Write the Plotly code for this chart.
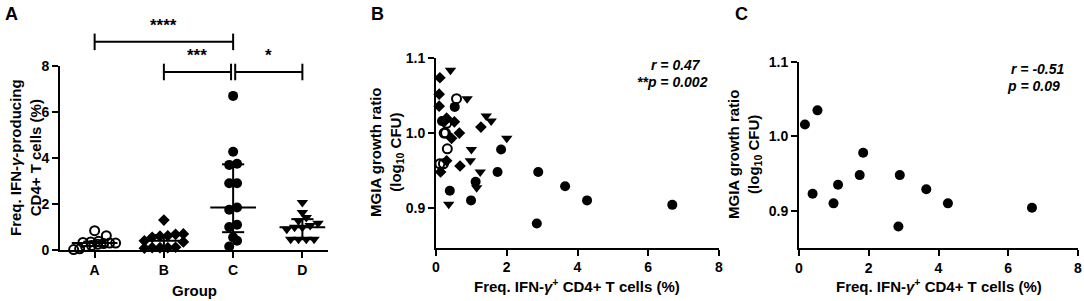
import numpy as np
import plotly.graph_objects as go

W, H = 1084, 301

# ---------------- DATA ----------------
groups = ["A", "B", "C", "D"]
grpA = [0.84, 0.62, 0.38, 0.35, 0.33, 0.30, 0.30, 0.28, 0.25, 0.20, 0.15, 0.05, 0.02]
grpB = [1.30, 0.70, 0.68, 0.62, 0.60, 0.55, 0.40, 0.35, 0.12, 0.10, 0.10, 0.10, 0.08]
grpC = [6.70, 4.27, 3.75, 3.70, 2.90, 2.90, 1.85, 1.75, 1.10, 1.00, 0.55, 0.40, 0.15]
grpD = [2.07, 1.63, 1.41, 1.27, 1.16, 1.06, 0.99, 0.99, 0.90, 0.47, 0.47, 0.47, 0.47]
group_values = [grpA, grpB, grpC, grpD]
group_symbols = ["circle-open", "diamond", "circle", "triangle-down"]

A_ticks = [0, 2, 4, 6, 8]
BC_xticks = [0, 2, 4, 6, 8]
BC_yticks = [0.9, 1.0, 1.1]

# significance brackets (from index, to index, label, height in y units)
brk_from = [0, 1, 2]
brk_to = [2, 2, 3]
brk_label = ["****", "***", "*"]
brk_height = [9.05, 7.74, 7.74]

# Panel B: correlation, all groups
b_A_x = [0.58, 0.30, 0.23, 0.27, 0.32, 0.11, 0.21]
b_A_y = [1.046, 1.013, 1.000, 1.000, 0.979, 0.959, 0.959]
b_B_x = [0.11, 0.09, 0.09, 0.30, 0.25, 0.52, 1.27, 0.66, 0.44, 0.30, 0.68, 0.13]
b_B_y = [1.074, 1.052, 1.036, 1.020, 1.016, 1.015, 1.008, 1.000, 0.993, 0.963, 0.956, 0.948]
c_x = [0.17, 0.53, 0.39, 0.99, 1.12, 1.74, 1.84, 2.89, 2.85, 3.65, 4.27, 6.68]
c_y = [1.016, 1.035, 0.923, 0.910, 0.935, 0.948, 0.978, 0.948, 0.879, 0.929, 0.910, 0.904]
b_D_x = [0.41, 0.88, 1.42, 1.56, 2.00, 1.00, 0.97, 1.25, 1.15, 0.36]
b_D_y = [1.084, 1.046, 1.023, 1.016, 0.993, 0.978, 0.963, 0.948, 0.927, 0.905]

stat_B = ["r = 0.47", "**p = 0.002"]
stat_C = ["r = -0.51", "p = 0.09"]

# ---------------- LAYOUT HELPERS ----------------
def px(x):
    return x / W

def py(y):
    return 1 - y / H

FONT = "Liberation Sans, Arial, sans-serif"
black = "black"

A_xr = [-0.5, 3.37]
A_yr = [0, 8]
A_xd = [px(60), px(328)]
A_yd = [py(250), py(66)]

B_xd = [px(436), px(719)]
B_yd = [py(247.5), py(58.3)]
B_yr = [0.847, 1.1]
C_xd = [px(799), px(1078)]
C_yd = [py(248), py(62)]
C_yr = [0.85, 1.1]

x_px_per_unit = (328 - 60) / (A_xr[1] - A_xr[0])
y_px_per_unit = (250 - 66) / 8.0


def swarm(vals, spacing_px=7.8, row_px=7.0, max_width_px=42.0):
    order = np.argsort(vals)
    offs = np.zeros(len(vals))
    rows = []
    cur = [order[0]]
    for idx in order[1:]:
        if (vals[idx] - vals[cur[0]]) * y_px_per_unit < row_px:
            cur.append(idx)
        else:
            rows.append(cur)
            cur = [idx]
    rows.append(cur)
    for r in rows:
        n = len(r)
        sp = spacing_px if n < 2 else min(spacing_px, max_width_px / (n - 1))
        for k, idx in enumerate(r):
            offs[idx] = (k - (n - 1) / 2) * sp / x_px_per_unit
    return offs


def b(s):
    return "<b>" + s + "</b>"


fig = go.Figure()

for gi, vals in enumerate(group_values):
    v = np.array(vals)
    offs = swarm(v)
    sym = group_symbols[gi]
    size = 9 if sym in ("circle-open", "diamond") else 10
    fig.add_trace(go.Scatter(
        x=gi + offs, y=v, mode="markers", xaxis="x", yaxis="y", cliponaxis=False,
        marker=dict(symbol=sym, size=size, color=black,
                    line=dict(color=black, width=2 if sym == "circle-open" else 0)),
        showlegend=False, hoverinfo="skip"))
    med = np.median(v)
    q1, q3 = np.percentile(v, [25, 75], method="weibull")
    mw, cw = 0.33, 0.16
    fig.add_trace(go.Scatter(
        x=[gi - mw, gi + mw, None, gi - cw, gi + cw, None, gi - cw, gi + cw, None, gi, gi],
        y=[med, med, None, q1, q1, None, q3, q3, None, q1, q3],
        mode="lines", line=dict(color=black, width=2), xaxis="x", yaxis="y",
        showlegend=False, hoverinfo="skip"))

for xs, ys, sym in [(b_A_x, b_A_y, "circle-open"), (b_B_x, b_B_y, "diamond"),
                    (c_x, c_y, "circle"), (b_D_x, b_D_y, "triangle-down")]:
    size = 9 if sym in ("circle-open", "diamond") else 10
    fig.add_trace(go.Scatter(
        x=xs, y=ys, mode="markers", xaxis="x2", yaxis="y2", cliponaxis=False,
        marker=dict(symbol=sym, size=size, color=black,
                    line=dict(color=black, width=2 if sym == "circle-open" else 0)),
        showlegend=False, hoverinfo="skip"))

fig.add_trace(go.Scatter(
    x=c_x, y=c_y, mode="markers", xaxis="x3", yaxis="y3", cliponaxis=False,
    marker=dict(symbol="circle", size=10, color=black),
    showlegend=False, hoverinfo="skip"))

tickfont = dict(family=FONT, size=14, color=black)
axcommon = dict(showline=True, linecolor=black, linewidth=2, ticks="outside",
                ticklen=6, tickwidth=2, tickcolor=black, showgrid=False,
                zeroline=False, tickfont=tickfont, fixedrange=True, automargin=False)

fig.update_layout(
    width=W, height=H, autosize=False,
    margin=dict(l=0, r=0, t=0, b=0, pad=0, autoexpand=False),
    paper_bgcolor="white", plot_bgcolor="white",
    font=dict(family=FONT, color=black),
    xaxis=dict(domain=A_xd, range=A_xr, anchor="y", tickvals=list(range(4)),
               ticktext=[b(g) for g in groups], **axcommon),
    yaxis=dict(domain=A_yd, range=A_yr, anchor="x", tickvals=A_ticks,
               ticktext=[b(str(t)) for t in A_ticks], **axcommon),
    xaxis2=dict(domain=B_xd, range=[0, 8], anchor="y2", tickvals=BC_xticks,
                ticktext=[b(str(t)) for t in BC_xticks], **axcommon),
    yaxis2=dict(domain=B_yd, range=B_yr, anchor="x2", tickvals=BC_yticks,
                ticktext=[b(f"{t:.1f}") for t in BC_yticks], **axcommon),
    xaxis3=dict(domain=C_xd, range=[0, 8], anchor="y3", tickvals=BC_xticks,
                ticktext=[b(str(t)) for t in BC_xticks], **axcommon),
    yaxis3=dict(domain=C_yd, range=C_yr, anchor="x3", tickvals=BC_yticks,
                ticktext=[b(f"{t:.1f}") for t in BC_yticks], **axcommon),
)


def ay(v):
    return A_yd[0] + (v - A_yr[0]) / (A_yr[1] - A_yr[0]) * (A_yd[1] - A_yd[0])


tick_h = 0.36
for f, t, lab, hgt in zip(brk_from, brk_to, brk_label, brk_height):
    x0 = f + (0.03 if f == 2 else 0.0)
    x1 = t - (0.03 if (t == 2 and f == 1) else 0.0)
    for shp in [dict(x0=x0, x1=x1, y0=ay(hgt), y1=ay(hgt)),
                dict(x0=x0, x1=x0, y0=ay(hgt - tick_h), y1=ay(hgt + tick_h)),
                dict(x0=x1, x1=x1, y0=ay(hgt - tick_h), y1=ay(hgt + tick_h))]:
        fig.add_shape(type="line", xref="x", yref="paper",
                      line=dict(color=black, width=2), **shp)
    fig.add_annotation(x=(x0 + x1) / 2, y=ay(hgt + 0.2), xref="x", yref="paper",
                       text=b(lab), showarrow=False, yanchor="bottom", xanchor="center",
                       font=dict(family=FONT, size=17, color=black))

titlefont = dict(family=FONT, size=15, color=black)
for lab, xp in [("A", 3), ("B", 369), ("C", 733)]:
    fig.add_annotation(xref="paper", yref="paper", showarrow=False, yanchor="middle",
                       xanchor="left", x=px(xp), y=py(14), text=b(lab),
                       font=dict(family=FONT, size=18, color=black))

fig.add_annotation(xref="paper", yref="paper", x=px(25), y=(A_yd[0] + A_yd[1]) / 2,
                   xanchor="center", yanchor="middle",
                   text=b("Freq. IFN-<i>γ</i>-producing<br>CD4+ T cells (%)"), textangle=-90,
                   showarrow=False, font=titlefont)
fig.add_annotation(xref="paper", yref="paper", x=(A_xd[0] + A_xd[1]) / 2, y=py(290),
                   xanchor="center", yanchor="middle",
                   text=b("Group"), showarrow=False, font=titlefont)
for xd, yd, tx in [(B_xd, B_yd, 387), (C_xd, C_yd, 745)]:
    fig.add_annotation(xref="paper", yref="paper", x=px(tx), y=(yd[0] + yd[1]) / 2,
                       xanchor="center", yanchor="middle",
                       text=b("MGIA growth ratio<br>(log<sub>10</sub> CFU)"), textangle=-90,
                       showarrow=False, font=titlefont)
    fig.add_annotation(xref="paper", yref="paper", x=(xd[0] + xd[1]) / 2, y=py(285),
                       xanchor="center", yanchor="middle",
                       text=b("Freq. IFN-<i>γ</i><sup>+</sup> CD4+ T cells (%)"),
                       showarrow=False, font=titlefont)

statfont = dict(family=FONT, size=14, color=black)
for xa, ya, lines, xs, ys in [("x2", "y2", stat_B, [7.54, 7.74], [1.091, 1.068]),
                              ("x3", "y3", stat_C, [7.68, 7.54], [1.0906, 1.068])]:
    for t, xv, yv in zip(lines, xs, ys):
        fig.add_annotation(xref=xa, yref=ya, x=xv, y=yv, text=b("<i>" + t + "</i>"),
                           xanchor="right", yanchor="middle", showarrow=False, font=statfont)

fig.write_html("out.html", config={"displayModeBar": False},
               post_script="document.body.style.margin='0';"
                           "document.documentElement.style.overflow='hidden';")
